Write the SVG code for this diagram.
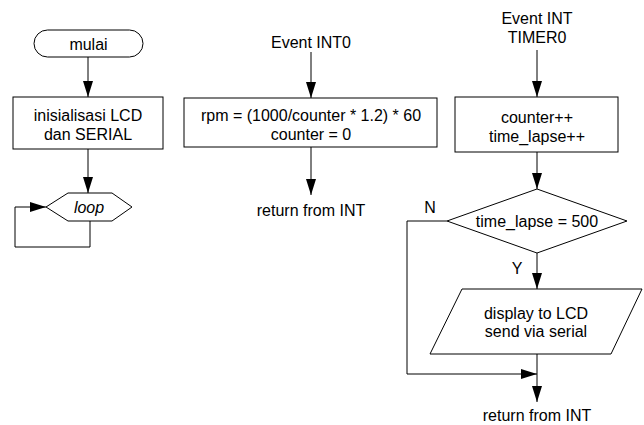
<svg xmlns="http://www.w3.org/2000/svg" width="644" height="425" viewBox="0 0 644 425">
<defs>
<style>
.s{fill:#fff;stroke:#000;stroke-width:1}
.c{fill:none;stroke:#000;stroke-width:1}
text{font-family:"Liberation Sans",Arial,sans-serif;font-size:16px;fill:#000;text-anchor:middle}
.i{font-style:italic}
</style>
<marker id="ah" viewBox="0 0 16 10" refX="16" refY="5" markerWidth="16" markerHeight="10" markerUnits="userSpaceOnUse" orient="auto">
<path d="M0,0 L16,5 L0,10 z" fill="#000"/>
</marker>
</defs>
<rect width="644" height="425" fill="#fff"/>
<g id="connectors">
<path class="c" d="M88,57 V97" marker-end="url(#ah)"/>
<path class="c" d="M88,149 V193" marker-end="url(#ah)"/>
<path class="c" d="M90,221 V247 H15 V207 H46" marker-end="url(#ah)"/>
<path class="c" d="M311,52 V98" marker-end="url(#ah)"/>
<path class="c" d="M311,147 V195" marker-end="url(#ah)"/>
<path class="c" d="M537,50 V97" marker-end="url(#ah)"/>
<path class="c" d="M537,152 V189" marker-end="url(#ah)"/>
<path class="c" d="M447,221 H407 V374 H537" marker-end="url(#ah)"/>
<path class="c" d="M537,253 V289" marker-end="url(#ah)"/>
<path class="c" d="M537,354 V402" marker-end="url(#ah)"/>
</g>
<g id="mulai">
<rect class="s" x="34" y="30" width="109" height="27" rx="13.5"/>
<text x="88.5" y="49.5">mulai</text>
</g>
<g id="init">
<rect class="s" x="13" y="97" width="150" height="52"/>
<text x="88" y="121">inisialisasi LCD</text>
<text x="88" y="140">dan SERIAL</text>
</g>
<g id="loop">
<polygon class="s" points="46,207 68,193 112,193 132,207 112,221 68,221"/>
<text class="i" x="89" y="212.5">loop</text>
</g>
<g id="event-int0">
<text x="311" y="48">Event INT0</text>
</g>
<g id="rpm">
<rect class="s" x="184" y="98" width="253" height="49"/>
<text x="311" y="121">rpm = (1000/counter * 1.2) * 60</text>
<text x="311" y="139.5">counter = 0</text>
</g>
<g id="return1">
<text x="311" y="216">return from INT</text>
</g>
<g id="event-timer0">
<text x="537" y="24">Event INT</text>
<text x="537" y="43">TIMER0</text>
</g>
<g id="counter">
<rect class="s" x="455" y="97" width="163" height="55"/>
<text x="537" y="123">counter++</text>
<text x="537" y="141.5">time_lapse++</text>
</g>
<g id="decision">
<polygon class="s" points="537,189 627,221 537,253 447,221"/>
<text x="537" y="227">time_lapse = 500</text>
<text x="430" y="213">N</text>
<text x="517" y="274">Y</text>
</g>
<g id="display">
<polygon class="s" points="462,289 642,289 611,354 430,354"/>
<text x="536" y="318.5">display to LCD</text>
<text x="536" y="337">send via serial</text>
</g>
<g id="return2">
<text x="537" y="421">return from INT</text>
</g>
</svg>
